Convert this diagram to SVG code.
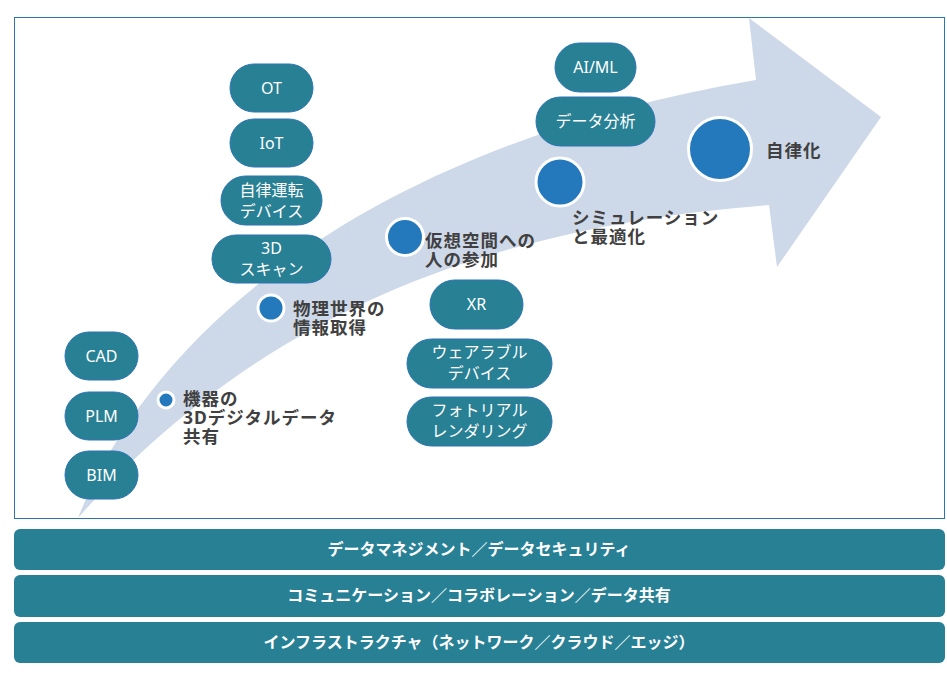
<svg xmlns="http://www.w3.org/2000/svg" width="947" height="681" viewBox="0 0 947 681">
<style>
.pill{fill:#288095;stroke:#2E75B6;stroke-width:1}
.pt{fill:#ffffff;font-family:"Noto Sans","Noto Sans CJK JP",sans-serif;font-size:16px;text-anchor:middle}
.dot{fill:#2479BD;stroke:#ffffff;stroke-width:3}
.lbl{fill:#404040;font-family:"Noto Sans","Noto Sans CJK JP",sans-serif;font-size:17.5px;font-weight:700;letter-spacing:1px}
.bar{fill:#288095}
.bt{fill:#ffffff;font-family:"Noto Sans","Noto Sans CJK JP",sans-serif;font-size:16px;font-weight:700;text-anchor:middle}
</style>
<rect x="0" y="0" width="947" height="681" fill="#ffffff"/>
<rect id="frame" x="14.5" y="17.5" width="930" height="501" fill="none" stroke="#2E75B6" stroke-width="1"/>
<g id="arrow">
<path d="M78,518 C160,310 400,140 756,80 L749,18 L881,117 L777,267 L769,205 C500,225 260,310 78,518 Z" fill="#CDD8E8"/>
</g>
<g id="connectors"></g>
<g id="node-ot"><rect class="pill" x="230" y="64" width="83" height="48" rx="24"/><text class="pt" x="271.5" y="94">OT</text></g>
<g id="node-iot"><rect class="pill" x="230" y="119" width="83" height="48" rx="24"/><text class="pt" x="271.5" y="149">IoT</text></g>
<g id="node-autodrive"><rect class="pill" x="221" y="176" width="101" height="49" rx="24.5"/><text class="pt" x="271.5" y="196">自律運転</text><text class="pt" x="271.5" y="217">デバイス</text></g>
<g id="node-3dscan"><rect class="pill" x="212" y="235" width="119" height="48" rx="24"/><text class="pt" x="271.5" y="254">3D</text><text class="pt" x="271.5" y="275">スキャン</text></g>
<g id="node-cad"><rect class="pill" x="65" y="332" width="73" height="48" rx="24"/><text class="pt" x="101.5" y="362">CAD</text></g>
<g id="node-plm"><rect class="pill" x="65" y="392" width="73" height="48" rx="24"/><text class="pt" x="101.5" y="422">PLM</text></g>
<g id="node-bim"><rect class="pill" x="65" y="451" width="73" height="48" rx="24"/><text class="pt" x="101.5" y="481">BIM</text></g>
<g id="node-aiml"><rect class="pill" x="555" y="43" width="81" height="49" rx="24.5"/><text class="pt" x="595.5" y="73">AI/ML</text></g>
<g id="node-analysis"><rect class="pill" x="536" y="97" width="119" height="49" rx="24.5"/><text class="pt" x="595.5" y="127">データ分析</text></g>
<g id="node-xr"><rect class="pill" x="430" y="280" width="93" height="49" rx="24.5"/><text class="pt" x="476.5" y="310">XR</text></g>
<g id="node-wearable"><rect class="pill" x="407" y="339" width="145" height="49" rx="24.5"/><text class="pt" x="479.5" y="358">ウェアラブル</text><text class="pt" x="479.5" y="379">デバイス</text></g>
<g id="node-render"><rect class="pill" x="407" y="397" width="145" height="49" rx="24.5"/><text class="pt" x="479.5" y="416">フォトリアル</text><text class="pt" x="479.5" y="437">レンダリング</text></g>
<g id="stage-1"><circle class="dot" cx="166" cy="400" r="8"/><text class="lbl" x="183" y="405">機器の</text><text class="lbl" x="183" y="424">3Dデジタルデータ</text><text class="lbl" x="183" y="443">共有</text></g>
<g id="stage-2"><circle class="dot" cx="271" cy="308" r="13"/><text class="lbl" x="293" y="315">物理世界の</text><text class="lbl" x="293" y="334">情報取得</text></g>
<g id="stage-3"><circle class="dot" cx="405" cy="237" r="18.5"/><text class="lbl" x="425" y="247">仮想空間への</text><text class="lbl" x="425" y="266">人の参加</text></g>
<g id="stage-4"><circle class="dot" cx="560" cy="182" r="24"/><text class="lbl" x="572" y="224">シミュレーション</text><text class="lbl" x="572" y="243">と最適化</text></g>
<g id="stage-5"><circle class="dot" cx="720" cy="149" r="31.5"/><text class="lbl" x="766" y="157">自律化</text></g>
<g id="bar-data"><rect class="bar" x="14" y="529" width="931" height="41" rx="6"/><text class="bt" x="479" y="555">データマネジメント／データセキュリティ</text></g>
<g id="bar-comm"><rect class="bar" x="14" y="575" width="931" height="42" rx="6"/><text class="bt" x="479" y="601">コミュニケーション／コラボレーション／データ共有</text></g>
<g id="bar-infra"><rect class="bar" x="14" y="622" width="931" height="41" rx="6"/><text class="bt" x="479" y="648">インフラストラクチャ（ネットワーク／クラウド／エッジ）</text></g>
</svg>
